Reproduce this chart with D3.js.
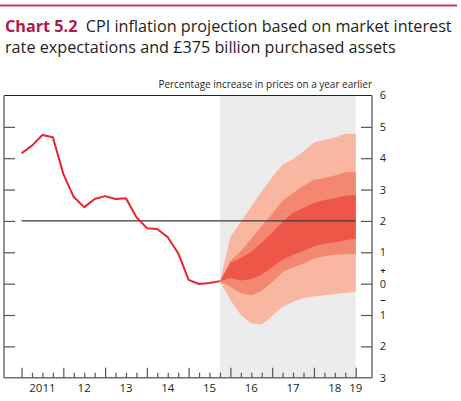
<!DOCTYPE html>
<html><head><meta charset="utf-8">
<script src="https://cdn.jsdelivr.net/npm/d3@7"></script>
<style>body{margin:0;background:#fff}svg{display:block}</style>
</head><body>
<script>
// ---------- data ----------
const histQuarters = ["2011Q1","2011Q2","2011Q3","2011Q4","2012Q1","2012Q2","2012Q3","2012Q4",
  "2013Q1","2013Q2","2013Q3","2013Q4","2014Q1","2014Q2","2014Q3","2014Q4","2015Q1","2015Q2","2015Q3","2015Q4"];
const cpiHistory = [4.16,4.40,4.74,4.67,3.50,2.76,2.44,2.70,2.79,2.70,2.72,2.12,1.77,1.74,1.48,0.97,0.12,-0.01,0.02,0.08];

const fanQuarters = ["2015Q4","2016Q1","2016Q2","2016Q3","2016Q4","2017Q1","2017Q2","2017Q3",
  "2017Q4","2018Q1","2018Q2","2018Q3","2018Q4","2019Q1"];
const fanUpperOuter = [0.08,1.49,1.98,2.46,2.94,3.40,3.80,3.97,4.22,4.50,4.58,4.66,4.78,4.78];
const fanUpperMid   = [0.08,0.72,1.04,1.43,1.84,2.22,2.64,2.89,3.12,3.31,3.37,3.45,3.55,3.55];
const fanUpperInner = [0.08,0.66,0.82,1.01,1.30,1.62,1.97,2.26,2.41,2.57,2.67,2.72,2.80,2.83];
const fanLowerInner = [0.08,0.18,0.10,0.15,0.28,0.53,0.76,0.92,1.04,1.19,1.27,1.31,1.38,1.43];
const fanLowerMid   = [0.08,-0.11,-0.30,-0.38,-0.23,0.05,0.37,0.52,0.64,0.80,0.87,0.92,0.94,0.95];
const fanLowerOuter = [0.08,-0.52,-1.00,-1.27,-1.30,-1.03,-0.74,-0.58,-0.46,-0.41,-0.37,-0.33,-0.30,-0.26];

const yTickValues = [-3,-2,-1,0,1,2,3,4,5,6];
const yTickLabels = ["3","2","1","0","1","2","3","4","5","6"];
const yearLabels = ["2011","12","13","14","15","16","17","18","19"];
const yearLabelPos = [2011.5,2012.5,2013.5,2014.5,2015.5,2016.5,2017.5,2018.5,2019];
const targetRate = 2;
const projectionStart = 2015.75, projectionEnd = 2019;

const titleBold = "Chart 5.2";
const titleRest1 = "CPI inflation projection based on market interest";
const titleLine2 = "rate expectations and £375 billion purchased assets";
const unitsLabel = "Percentage increase in prices on a year earlier";

// ---------- helpers ----------
const q2t = s => +s.slice(0,4) + (+s.slice(5) - 1) / 4;

const W = 461, H = 401;
const L = 4, R = 372, T = 95.5, B = 377.7;
const FONT = "'Open Sans', 'DejaVu Sans', sans-serif";

const svg = d3.select("body").append("svg").attr("width", W).attr("height", H)
  .style("font-family", FONT);

const x = d3.scaleLinear().domain([2010.58, 2019.39]).range([L, R]);
const y = d3.scaleLinear().domain([-3, 6]).range([B, T]);

// top rule
svg.append("line").attr("x1",0).attr("x2",457).attr("y1",5.5).attr("y2",5.5)
  .attr("stroke","#c63a63").attr("stroke-width",2);

// title
function fitText(sel, target) {
  const w = sel.node().getComputedTextLength();
  const fs = parseFloat(sel.attr("font-size"));
  sel.attr("font-size", fs * target / w);
}
const t1 = svg.append("text").attr("x",5).attr("y",31.5).attr("font-size",17).attr("fill","#231f20");
t1.append("tspan").attr("font-weight","bold").attr("fill","#b0174a").text(titleBold);
t1.append("tspan").text("\u00a0\u00a0" + titleRest1);
fitText(t1, 447);
svg.append("text").attr("x",5).attr("y",53).attr("font-size",t1.attr("font-size")).attr("fill","#231f20").text(titleLine2);

// units label
const u = svg.append("text").attr("x",372).attr("y",88).attr("text-anchor","end")
  .attr("font-size",11).attr("fill","#231f20").text(unitsLabel);
fitText(u, 214);

// projection shading
svg.append("rect").attr("x", x(projectionStart)).attr("y", T)
  .attr("width", x(projectionEnd) - x(projectionStart)).attr("height", B - T)
  .attr("fill", "#ececec");

// fan
const fanT = fanQuarters.map(q2t);
const band = (lo, hi) => d3.area().x((d,i) => x(fanT[i])).y0((d,i) => y(lo[i])).y1((d,i) => y(hi[i]))(fanT);
svg.append("path").attr("d", band(fanLowerOuter, fanUpperOuter)).attr("fill", "#f9b7a2");
svg.append("path").attr("d", band(fanLowerMid, fanUpperMid)).attr("fill", "#f3876f");
svg.append("path").attr("d", band(fanLowerInner, fanUpperInner)).attr("fill", "#ee5747");

// target line
svg.append("line").attr("x1", x(2011)).attr("x2", x(2019)).attr("y1", y(targetRate)).attr("y2", y(targetRate))
  .attr("stroke", "#3a3a3a").attr("stroke-width", 1.3);

// history line
const histT = histQuarters.map(q2t);
svg.append("path")
  .attr("d", d3.line().x((d,i) => x(histT[i])).y(d => y(d))(cpiHistory))
  .attr("fill","none").attr("stroke","#e8232d").attr("stroke-width",2).attr("stroke-linejoin","round");

// frame
svg.append("line").attr("x1",L).attr("x2",R).attr("y1",T).attr("y2",T).attr("stroke","#222").attr("stroke-width",1);
svg.append("line").attr("x1",L).attr("x2",L).attr("y1",T).attr("y2",B).attr("stroke","#6e6e6e").attr("stroke-width",1.5);
svg.append("line").attr("x1",R).attr("x2",R).attr("y1",T).attr("y2",B).attr("stroke","#6e6e6e").attr("stroke-width",1.5);
svg.append("line").attr("x1",L).attr("x2",R).attr("y1",B).attr("y2",B).attr("stroke","#6e6e6e").attr("stroke-width",1.5);

// y ticks (inner, both sides)
const innerY = yTickValues.filter(v => v > -3 && v < 6);
const styleAxis = g => { g.select(".domain").remove(); g.selectAll("line").attr("stroke","#555").attr("stroke-width",1.2); g.selectAll("text").remove(); };
svg.append("g").attr("transform",`translate(${R},0)`)
  .call(d3.axisLeft(y).tickValues(innerY).tickSize(11).tickFormat("")).call(styleAxis);
svg.append("g").attr("transform",`translate(${L},0)`)
  .call(d3.axisRight(y).tickValues(innerY).tickSize(11).tickFormat("")).call(styleAxis);

// y labels
svg.append("g").selectAll("text").data(yTickValues).join("text")
  .attr("x", 383).attr("y", d => y(d)).attr("dy","0.36em").attr("text-anchor","middle")
  .attr("font-size", 11).attr("fill","#231f20")
  .text((d,i) => yTickLabels[i]);
svg.append("text").attr("x",383).attr("y",y(0.43)).attr("dy","0.36em").attr("text-anchor","middle")
  .attr("font-size",9.5).attr("font-weight","bold").attr("fill","#231f20").text("+");
svg.append("text").attr("x",383).attr("y",y(-0.53)).attr("dy","0.36em").attr("text-anchor","middle")
  .attr("font-size",9.5).attr("font-weight","bold").attr("fill","#231f20").text("\u2212");

// x ticks
const yearTicks = d3.range(2011, 2020);
const quarterTicks = d3.range(2011, 2019, 0.25).filter(v => v % 1 !== 0);
svg.append("g").attr("transform",`translate(0,${B})`)
  .call(d3.axisTop(x).tickValues(yearTicks).tickSize(10).tickFormat("")).call(styleAxis);
svg.append("g").attr("transform",`translate(0,${B})`)
  .call(d3.axisTop(x).tickValues(quarterTicks).tickSize(5).tickFormat("")).call(styleAxis);

// x labels
svg.append("g").selectAll("text").data(yearLabelPos).join("text")
  .attr("x", d => x(d)).attr("y", 392).attr("text-anchor","middle")
  .attr("font-size", 11.5).attr("fill","#231f20")
  .text((d,i) => yearLabels[i]);
</script>
</body></html>
